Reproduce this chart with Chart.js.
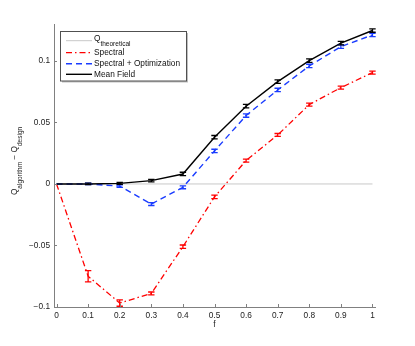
<!DOCTYPE html>
<html>
<head>
<meta charset="utf-8">
<script src="https://cdn.jsdelivr.net/npm/chart.js@4"></script>
<style>
html,body{margin:0;padding:0;background:#fff;}
canvas{display:block;}
</style>
</head>
<body>
<canvas id="c" width="415" height="346"></canvas>
<script>
// ---- data ----
const fValues = [0, 0.1, 0.2, 0.3, 0.4, 0.5, 0.6, 0.7, 0.8, 0.9, 1.0];
const spectral = [0, -0.075, -0.0968, -0.089, -0.051, -0.0105, 0.019, 0.0398, 0.0645, 0.0783, 0.0905];
const spectralErr = [0, 0.0046, 0.0026, 0.0012, 0.0014, 0.0014, 0.0012, 0.0012, 0.0012, 0.0012, 0.0012];
const spectralOpt = [0, 0, -0.0018, -0.0163, -0.0027, 0.0268, 0.0556, 0.0764, 0.0959, 0.1116, 0.1211];
const spectralOptErr = [0, 0.0006, 0.001, 0.0012, 0.0012, 0.0014, 0.0014, 0.0014, 0.0014, 0.0014, 0.0014];
const meanField = [0, 0, 0.0005, 0.0027, 0.0081, 0.038, 0.0632, 0.0832, 0.1002, 0.1144, 0.1247];
const meanFieldErr = [0, 0.0006, 0.0008, 0.001, 0.0014, 0.0014, 0.0014, 0.0014, 0.0014, 0.0014, 0.0014];
const theoreticalX = [0, 1];
const theoretical = [0, 0];
const xTicks = [0, 0.1, 0.2, 0.3, 0.4, 0.5, 0.6, 0.7, 0.8, 0.9, 1];
const yTicks = [-0.1, -0.05, 0, 0.05, 0.1];
const labels = ['Q_{theoretical}', 'Spectral', 'Spectral + Optimization', 'Mean Field'];
const xTitle = 'f';
const yTitle = 'Q_{algorithm} \u2212 Q_{design}';

const FONT = '"Liberation Sans", Arial, Helvetica, sans-serif';
const FS = 8.3, SUBFS = 6.5;

function pts(xs, ys){ return xs.map((x,i)=>({x:x, y:ys[i]})); }
function fmt(v){
  let s = String(Math.round(v*1000)/1000);
  return s.replace('-', '\u2212');
}
// parse "A_{b} C" into segments
function segs(str){
  const out=[]; const re=/_\{([^}]*)\}/g; let last=0, m;
  while((m=re.exec(str))){ if(m.index>last) out.push({t:str.slice(last,m.index),sub:false}); out.push({t:m[1],sub:true}); last=re.lastIndex; }
  if(last<str.length) out.push({t:str.slice(last),sub:false});
  return out;
}
function richWidth(ctx,str){
  let w=0; for(const s of segs(str)){ ctx.font=(s.sub?SUBFS:FS)+'px '+FONT; w+=ctx.measureText(s.t).width; } return w;
}
function drawRich(ctx,str,x,y,hasSub){
  // y = vertical centre of the entry; main text shifted up if subscripts exist
  let cx=x;
  ctx.textBaseline='middle'; ctx.textAlign='left';
  for(const s of segs(str)){
    ctx.font=(s.sub?SUBFS:FS)+'px '+FONT;
    const yy = s.sub ? y+3.5 : (hasSub ? y-2 : y);
    ctx.fillText(s.t,cx,yy);
    cx+=ctx.measureText(s.t).width;
  }
}

const datasets = [
  {label:labels[0], data:pts(theoreticalX,theoretical), borderColor:'#c8c8c8', borderWidth:1, order:4},
  {label:labels[1], data:pts(fValues,spectral), errors:spectralErr, borderColor:'#ff0000', borderWidth:1.3, borderDash:[6,3,1.5,3], order:3},
  {label:labels[2], data:pts(fValues,spectralOpt), errors:spectralOptErr, borderColor:'#1a3cff', borderWidth:1.4, borderDash:[6,4], order:2},
  {label:labels[3], data:pts(fValues,meanField), errors:meanFieldErr, borderColor:'#000000', borderWidth:1.4, order:1}
];

const errorBars = {
  id:'errorBars',
  afterDatasetsDraw(chart){
    const ctx=chart.ctx, xs=chart.scales.x, ys=chart.scales.y;
    ctx.save();
    chart.data.datasets.forEach(ds=>{
      if(!ds.errors) return;
      ctx.strokeStyle=ds.borderColor; ctx.lineWidth=1.3; ctx.setLineDash([]);
      ds.data.forEach((p,j)=>{
        const e=ds.errors[j]; if(!e) return;
        const px=xs.getPixelForValue(p.x);
        const y1=ys.getPixelForValue(p.y+e), y2=ys.getPixelForValue(p.y-e);
        const h=3.2;
        ctx.beginPath();
        ctx.moveTo(px,y1); ctx.lineTo(px,y2);
        ctx.moveTo(px-h,y1); ctx.lineTo(px+h,y1);
        ctx.moveTo(px-h,y2); ctx.lineTo(px+h,y2);
        ctx.stroke();
      });
    });
    ctx.restore();
  }
};

const decorations = {
  id:'decorations',
  afterDraw(chart){
    const ctx=chart.ctx, xs=chart.scales.x, ys=chart.scales.y, a=chart.chartArea;
    ctx.save();
    // inward ticks
    ctx.strokeStyle='#808080'; ctx.lineWidth=1; ctx.setLineDash([]);
    ctx.beginPath();
    xTicks.forEach(v=>{ const px=Math.round(xs.getPixelForValue(v))+0.5; ctx.moveTo(px,a.bottom); ctx.lineTo(px,a.bottom-3); });
    yTicks.forEach(v=>{ const py=Math.round(ys.getPixelForValue(v))+0.5; ctx.moveTo(a.left,py); ctx.lineTo(a.left+3,py); });
    ctx.stroke();
    // axis titles
    ctx.fillStyle='#222';
    ctx.font=FS+'px '+FONT;
    ctx.textAlign='center'; ctx.textBaseline='middle';
    ctx.fillText(xTitle,(a.left+a.right)/2,325);
    ctx.save();
    ctx.translate(17,161);
    ctx.rotate(-Math.PI/2);
    const w=richWidth(ctx,yTitle);
    drawRich(ctx,yTitle,-w/2,0,true);
    ctx.restore();
    // legend
    const bx=60.5, by=31.5, bw=126, bh=49.5;
    ctx.fillStyle='rgba(0,0,0,0.25)';
    ctx.fillRect(bx+1.5,by+1.5,bw,bh);
    ctx.fillStyle='#fff'; ctx.fillRect(bx,by,bw,bh);
    ctx.strokeStyle='#505050'; ctx.lineWidth=1; ctx.strokeRect(bx,by,bw,bh);
    const ys_ = [40.7, 52.7, 63.7, 74.3];
    chart.data.datasets.forEach((ds,i)=>{
      const yy=ys_[i];
      ctx.strokeStyle=ds.borderColor; ctx.lineWidth=ds.borderWidth; ctx.setLineDash(ds.borderDash||[]);
      ctx.beginPath(); ctx.moveTo(66,yy); ctx.lineTo(92,yy); ctx.stroke();
      ctx.setLineDash([]);
      ctx.fillStyle='#111';
      drawRich(ctx,ds.label,94,yy,ds.label.indexOf('_{')>=0);
    });
    ctx.restore();
  }
};

new Chart(document.getElementById('c'), {
  type:'line',
  data:{datasets:datasets},
  options:{
    responsive:false, animation:false, devicePixelRatio:1,
    layout:{padding:{left:0,right:40,top:24,bottom:0}},
    elements:{point:{radius:0}, line:{tension:0}},
    plugins:{legend:{display:false}, tooltip:{enabled:false}},
    scales:{
      x:{type:'linear', min:-0.008, max:1.008,
        afterBuildTicks(s){ s.ticks=xTicks.map(v=>({value:v})); },
        afterFit(s){ s.height=39; },
        grid:{display:true, drawOnChartArea:false, drawTicks:false},
        border:{display:true, color:'#808080', width:1},
        ticks:{padding:4, color:'#222', font:{family:FONT,size:FS}, maxRotation:0, autoSkip:false, callback:v=>fmt(v)}
      },
      y:{type:'linear', min:-0.1, max:0.13,
        afterBuildTicks(s){ s.ticks=yTicks.map(v=>({value:v})); },
        afterFit(s){ s.width=54; },
        grid:{display:true, drawOnChartArea:false, drawTicks:false},
        border:{display:true, color:'#808080', width:1},
        ticks:{padding:4, color:'#222', font:{family:FONT,size:FS}, autoSkip:false, callback:v=>fmt(v)}
      }
    }
  },
  plugins:[errorBars, decorations]
});
</script>
</body>
</html>
